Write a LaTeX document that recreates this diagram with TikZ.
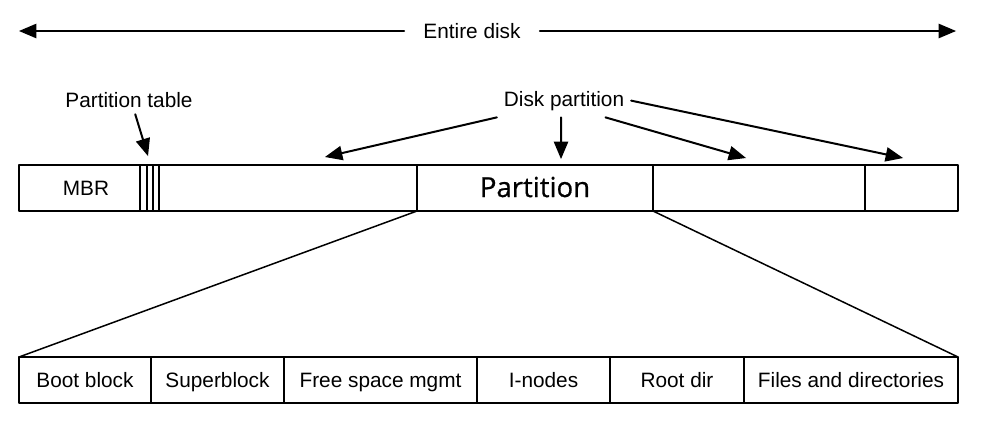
\documentclass[tikz,border=0pt]{standalone}
\usepackage{fontspec}
\setmainfont{Liberation Sans}
\newfontfamily\partfont[FakeBold=0.7]{Open Sans}
\usetikzlibrary{arrows,positioning}

\tikzset{
  seg/.style={draw,line width=0.75pt,minimum height=23pt,inner sep=0pt,outer sep=0pt,
    text height=7.6pt,text depth=0pt,font=\fontsize{10.4}{12}\selectfont},
  slice/.style={draw,line width=0.7pt,minimum height=23pt,inner sep=0pt,outer sep=0pt},
  lbl/.style={font=\fontsize{10.4}{12}\selectfont}
}

\begin{document}
\begin{tikzpicture}[line cap=round,line join=round,>=triangle 45,x=0.5pt,y=-0.5pt]
  \useasboundingbox (0,0) rectangle (990,424);
  % whole disk
  \node[lbl,inner xsep=9.5pt] (disk) at (472,31) {Entire disk};
  \coordinate (dl) at (19,31);
  \coordinate (dr) at (956,31);
  \draw[->,line width=1pt] (disk.west) -- (dl);
  \draw[->,line width=1pt] (disk.east) -- (dr);
  % top bar
  \node[seg,anchor=west,minimum width=60.5pt] (mbr) at (19,188) {\hspace{6.5pt}MBR};
  \node[slice,right=0pt of mbr,minimum width=3.5pt] (pt1) {};
  \node[slice,right=0pt of pt1,minimum width=3pt] (pt2) {};
  \node[slice,right=0pt of pt2,minimum width=3pt] (pt3) {};
  \node[seg,right=0pt of pt3,minimum width=129pt] (p1) {};
  \node[seg,right=0pt of p1,minimum width=118pt,text height=9pt,
    font=\partfont\fontsize{13.8}{16}\selectfont] (p2) {Partition};
  \node[seg,right=0pt of p2,minimum width=106pt] (p3) {};
  \node[seg,right=0pt of p3,minimum width=46.5pt] (p4) {};
  % labels
  \node[lbl,anchor=base] (ptab) at (129,107) {Partition table};
  \node[lbl,anchor=base] (dpart) at (564,106) {Disk partition};
  \coordinate (tabtip) at (148,156);
  \coordinate (tip1) at (325,157);
  \coordinate (tip2) at (561,159);
  \coordinate (tip3) at (746,158);
  \coordinate (tip4) at (903,158);
  \draw[->,line width=1pt] (ptab.-67) -- (tabtip);
  \draw[->,line width=1pt] (dpart.south west) -- (tip1);
  \draw[->,line width=1pt] (dpart.-100) -- (tip2);
  \draw[->,line width=1pt] (dpart.-22) -- (tip3);
  \draw[->,line width=1pt] (dpart.east) -- (tip4);
  % bottom bar
  \node[seg,anchor=west,minimum width=66pt] (boot) at (19,380) {Boot block};
  \node[seg,right=0pt of boot,minimum width=66.5pt] (super) {Superblock};
  \node[seg,right=0pt of super,minimum width=96.5pt] (free) {Free space mgmt};
  \node[seg,right=0pt of free,minimum width=66.5pt] (inodes) {I-nodes};
  \node[seg,right=0pt of inodes,minimum width=67pt] (root) {Root dir};
  \node[seg,right=0pt of root,minimum width=107pt] (files) {Files and directories};
  \draw[line width=0.75pt] (p2.south west) -- (boot.north west);
  \draw[line width=0.75pt] (p2.south east) -- (files.north east);
\end{tikzpicture}
\end{document}
